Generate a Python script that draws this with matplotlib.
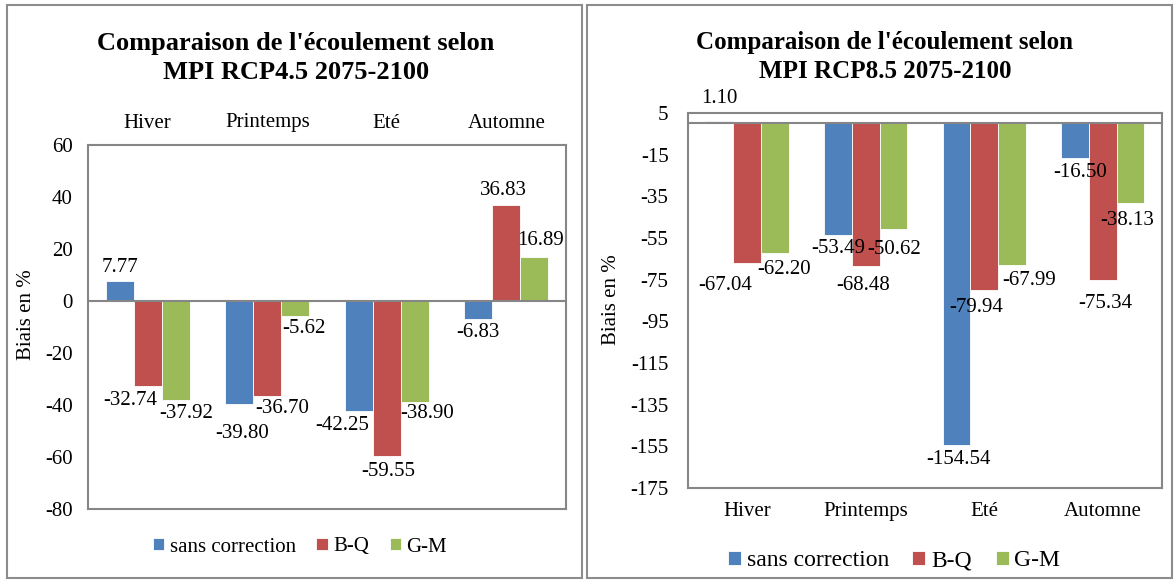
import numpy as np
import matplotlib
matplotlib.use("Agg")
import matplotlib.pyplot as plt
from matplotlib.patches import Rectangle

# ── data ─────────────────────────────────────────────
seasons = ["Hiver", "Printemps", "Eté", "Automne"]
series = ["sans correction", "B-Q", "G-M"]

rcp45_sans = [7.77, -39.80, -42.25, -6.83]
rcp45_bq = [-32.74, -36.70, -59.55, 36.83]
rcp45_gm = [-37.92, -5.62, -38.90, 16.89]

rcp85_sans = [1.10, -53.49, -154.54, -16.50]
rcp85_bq = [-67.04, -68.48, -79.94, -75.34]
rcp85_gm = [-62.20, -50.62, -67.99, -38.13]

# label nudges (pixels, relative to bar end), order: series x season
nudge45 = [[(0, 13), (3, -29), (-17, -15), (0, -14)],
           [(-17, -14), (15, -12), (1, -16), (-3, 15)],
           [(11, -14), (9, -13), (13, -11), (6, 17)]]
nudge85 = [[(0, 23), (0, -14), (2, -14), (5, -15)],
           [(-22, -22), (-3, -19), (-8, -18), (3, -23)],
           [(9, -16), (1, -21), (17, -15), (-3, -18)]]

colors = ["#4F81BD", "#C0504D", "#9BBB59"]
GRAY = "#868686"

plt.rcParams["font.family"] = "Liberation Serif"
plt.rcParams["font.size"] = 15
plt.rcParams["axes.unicode_minus"] = False

W, H = 1176, 581
fig = plt.figure(figsize=(W / 100, H / 100), dpi=100)


def fx(px):
    return px / W


def fy(py):
    return 1 - py / H


def panel(box, data, nudges, ylim, yticks, ticks_top, title, title_pos,
          title_size, title_ls, ylabel_pos, ytick_pad, xtick_pad, leg_pos, leg_size):
    left, top, right, bottom = box
    ax = fig.add_axes([fx(left), fy(bottom), fx(right - left), (bottom - top) / H])
    x = np.arange(len(seasons))
    w = 0.233
    for i, vals in enumerate(data):
        pos = x + (i - 1) * w
        ax.bar(pos, vals, w, color=colors[i], edgecolor="white", linewidth=0.6,
               label=series[i], zorder=2)
        for j, v in enumerate(vals):
            dx, dy = nudges[i][j]
            ax.annotate(f"{v:.2f}", (pos[j], v), xytext=(dx, dy),
                        textcoords="offset pixels", ha="center", va="center",
                        fontsize=15, zorder=3)
    ax.axhline(0, color=GRAY, lw=1.5, zorder=3)
    ax.set_xlim(-0.5, len(seasons) - 0.5)
    ax.set_ylim(*ylim)
    ax.set_yticks(yticks)
    ax.set_xticks(x)
    ax.set_xticklabels(seasons)
    if ticks_top:
        ax.xaxis.tick_top()
    ax.tick_params(axis="x", length=0, pad=xtick_pad, labelsize=15)
    ax.tick_params(axis="y", length=0, pad=ytick_pad, labelsize=15)
    for s in ax.spines.values():
        s.set_color(GRAY)
        s.set_linewidth(1.5)
    fig.text(fx(title_pos[0]), fy(title_pos[1]), title, ha="center", va="center",
             fontsize=title_size, fontweight="bold", linespacing=title_ls)
    fig.text(fx(ylabel_pos[0]), fy(ylabel_pos[1]), "Biais en %", rotation=90,
             ha="center", va="center", fontsize=15)
    handles, labels = ax.get_legend_handles_labels()
    fig.legend(handles, labels, loc="center", ncol=3, frameon=False,
               bbox_to_anchor=(fx(leg_pos[0]), fy(leg_pos[1])),
               fontsize=leg_size, handlelength=0.55, handleheight=0.55,
               handletextpad=0.25, columnspacing=1.0, borderaxespad=0)
    return ax


# panel frames
for x0, x1 in [(7, 582), (587, 1172)]:
    fig.patches.append(Rectangle((fx(x0), fy(578)), fx(x1 - x0), (578 - 5) / H,
                                 transform=fig.transFigure, fill=False,
                                 edgecolor="#8c8c8c", lw=1.5))

panel((88, 145, 566, 509), [rcp45_sans, rcp45_bq, rcp45_gm], nudge45,
      (-80, 60), np.arange(-80, 61, 20), True,
      "Comparaison de l'écoulement selon\nMPI RCP4.5 2075-2100", (296, 58), 19, 1.36,
      (27, 315), 11, 9, (300, 547), 15)

panel((688, 113, 1162, 488), [rcp85_sans, rcp85_bq, rcp85_gm], nudge85,
      (-175, 5), np.arange(-175, 6, 20), False,
      "Comparaison de l'écoulement selon\nMPI RCP8.5 2075-2100", (885, 57), 18, 1.33,
      (611, 300), 14, 10, (894, 561), 17)

fig.savefig("out.png", dpi=100)
